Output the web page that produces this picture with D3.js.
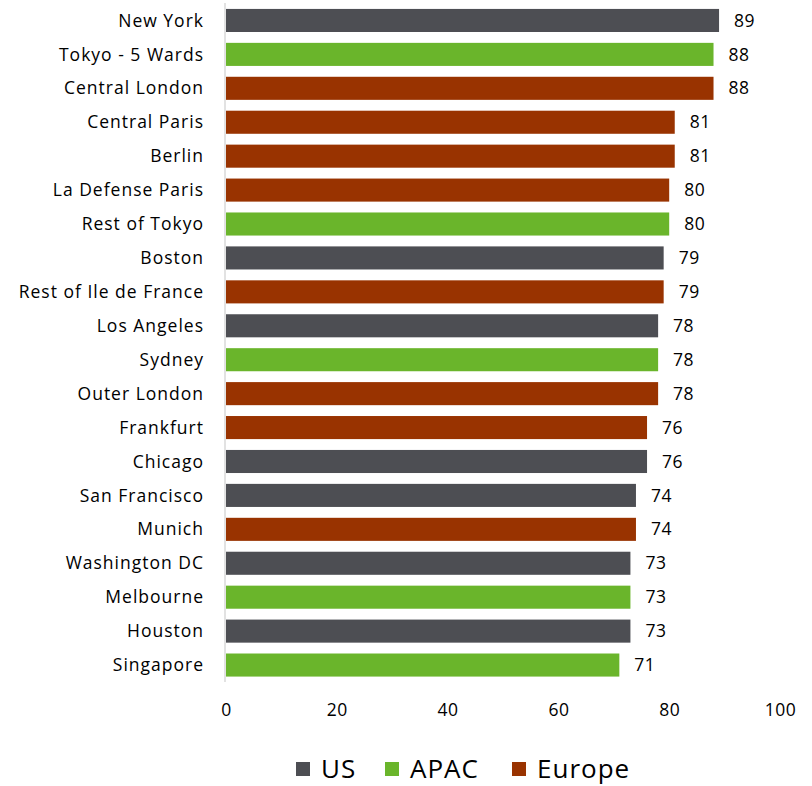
<!DOCTYPE html>
<html>
<head>
<meta charset="utf-8">
<script src="https://cdn.jsdelivr.net/npm/d3@7"></script>
<style>
  body { margin: 0; background: #fff; }
  svg text { font-family: "Open Sans", "Noto Sans", sans-serif; fill: #000; }
</style>
</head>
<body>
<svg id="chart" width="812" height="786"></svg>
<script>
// Cities, their scores and region
const cities = ["New York", "Tokyo - 5 Wards", "Central London", "Central Paris", "Berlin",
  "La Defense Paris", "Rest of Tokyo", "Boston", "Rest of Ile de France", "Los Angeles",
  "Sydney", "Outer London", "Frankfurt", "Chicago", "San Francisco", "Munich",
  "Washington DC", "Melbourne", "Houston", "Singapore"];
const scores = [89, 88, 88, 81, 81, 80, 80, 79, 79, 78, 78, 78, 76, 76, 74, 74, 73, 73, 73, 71];
const regions = ["US", "APAC", "Europe", "Europe", "Europe", "Europe", "APAC", "US", "Europe", "US",
  "APAC", "Europe", "Europe", "US", "US", "Europe", "US", "APAC", "US", "APAC"];
const regionNames = ["US", "APAC", "Europe"];
const regionColors = ["#4d4e53", "#6ab52b", "#993300"];
const xTicks = [0, 20, 40, 60, 80, 100];

const svg = d3.select("#chart");
const x = d3.scaleLinear().domain([0, 100]).range([226, 780]);
const y = d3.scaleBand().domain(cities).range([3.5, 682]).paddingInner(0.32).paddingOuter(0.16);
const color = d3.scaleOrdinal().domain(regionNames).range(regionColors);

const rows = cities.map((c, i) => ({ city: c, score: scores[i], region: regions[i] }));

// Bars
svg.append("g").selectAll("rect").data(rows).join("rect")
  .attr("x", x(0))
  .attr("y", d => y(d.city))
  .attr("width", d => x(d.score) - x(0))
  .attr("height", y.bandwidth())
  .attr("fill", d => color(d.region));

// Category axis line
svg.append("line")
  .attr("x1", x(0) - 1).attr("x2", x(0) - 1)
  .attr("y1", 3).attr("y2", 682)
  .attr("stroke", "#d9d9d9").attr("stroke-width", 1.5);

// Category labels
svg.append("g").selectAll("text").data(rows).join("text")
  .attr("x", 204)
  .attr("y", d => y(d.city) + y.bandwidth() / 2)
  .attr("dy", "0.35em")
  .attr("text-anchor", "end")
  .attr("font-size", 17.5)
  .attr("letter-spacing", 1)
  .text(d => d.city);

// Value labels
svg.append("g").selectAll("text").data(rows).join("text")
  .attr("x", d => x(d.score) + 15)
  .attr("y", d => y(d.city) + y.bandwidth() / 2)
  .attr("dy", "0.35em")
  .attr("font-size", 17.5)
  .attr("letter-spacing", 0.5)
  .text(d => d.score);

// Value axis (labels only)
const xAxis = d3.axisBottom(x).tickValues(xTicks).tickSize(0).tickPadding(0);
const gx = svg.append("g").attr("transform", "translate(0,704)").call(xAxis);
gx.select(".domain").remove();
gx.selectAll("text").attr("font-size", 17.5).attr("letter-spacing", 0.5)
  .attr("font-family", "Open Sans, Noto Sans, sans-serif").attr("fill", "#000");

// Legend
const legendX = [296, 385, 512];
const lg = svg.append("g").selectAll("g").data(regionNames).join("g")
  .attr("transform", (d, i) => `translate(${legendX[i]},769)`);
lg.append("rect").attr("x", 0).attr("y", -7).attr("width", 14).attr("height", 14)
  .attr("fill", d => color(d));
lg.append("text").attr("x", 25).attr("dy", "0.36em").attr("font-size", 26)
  .attr("letter-spacing", 1).text(d => d);
</script>
</body>
</html>
